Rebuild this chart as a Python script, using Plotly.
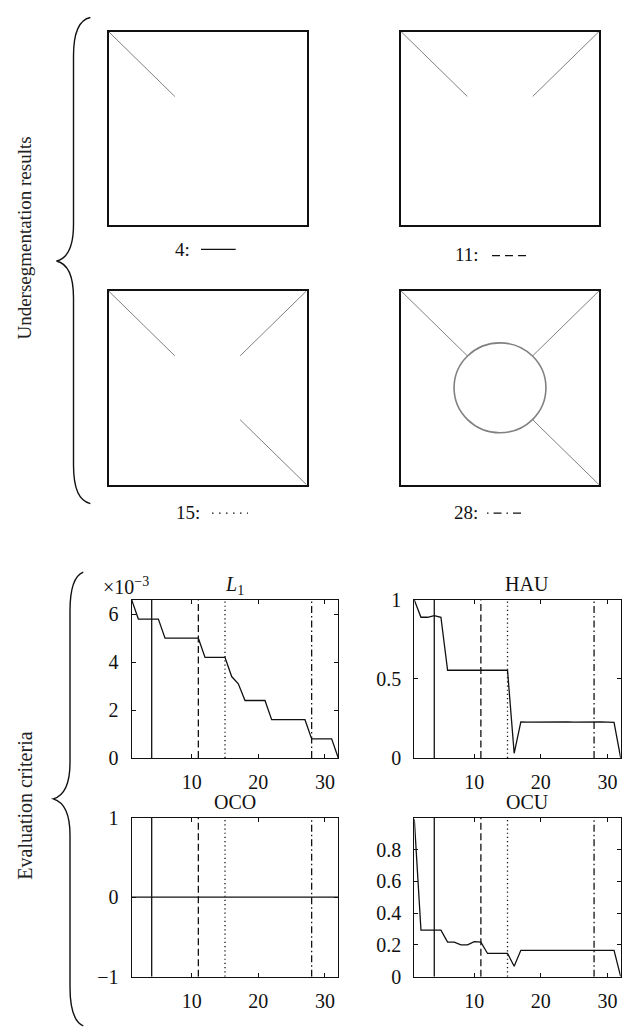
import plotly.graph_objects as go

W, H = 630, 1032

# ------------------------------------------------------------------ data
iterations = [1, 2, 3, 4, 5, 6, 7, 8, 9, 10, 11, 12, 13, 14, 15, 16,
              17, 18, 19, 20, 21, 22, 23, 24, 25, 26, 27, 28, 29, 30, 31, 32]
l1_e3 = [6.6, 5.8, 5.8, 5.8, 5.8, 5.0, 5.0, 5.0, 5.0, 5.0, 5.0, 4.2, 4.2, 4.2, 4.2, 3.4,
         3.1, 2.4, 2.4, 2.4, 2.4, 1.6, 1.6, 1.6, 1.6, 1.6, 1.6, 0.8, 0.8, 0.8, 0.8, 0.0]
hau = [1.0, 0.89, 0.89, 0.90, 0.89, 0.555, 0.555, 0.555, 0.556, 0.557, 0.557, 0.556, 0.556, 0.556, 0.555, 0.03,
       0.228, 0.227, 0.228, 0.228, 0.229, 0.228, 0.228, 0.228, 0.227, 0.228, 0.229, 0.228, 0.228, 0.227, 0.225, 0.0]
oco = [0, 0, 0, 0, 0, 0, 0, 0, 0, 0, 0, 0, 0, 0, 0, 0,
       0, 0, 0, 0, 0, 0, 0, 0, 0, 0, 0, 0, 0, 0, 0, 0]
ocu = [0.99, 0.293, 0.293, 0.293, 0.293, 0.217, 0.217, 0.20, 0.20, 0.22, 0.217, 0.146, 0.146, 0.146, 0.146, 0.066,
       0.166, 0.166, 0.166, 0.166, 0.166, 0.166, 0.166, 0.166, 0.166, 0.166, 0.166, 0.166, 0.166, 0.166, 0.166, 0.0]

selected_iters = [4, 11, 15, 28]
selected_labels = ["4:", "11:", "15:", "28:"]

plot_titles = ["<i>L</i><sub>1</sub>", "HAU", "OCO", "OCU"]
x_ticks = [10, 20, 30]
y_ticks = [[0, 2, 4, 6], [0, 0.5, 1], [-1, 0, 1], [0, 0.2, 0.4, 0.6, 0.8]]
y_ticktext = [["0", "2", "4", "6"], ["0", "0.5", "1"], ["\u22121", "0", "1"],
              ["0", "0.2", "0.4", "0.6", "0.8"]]
y_ranges = [[0, 6.6], [0, 1], [-1, 1], [0, 1]]
x_range = [1, 32]

# segmentation pictures: which corner diagonals are present, and a circle
image_diagonals = [["tl"], ["tl", "tr"], ["tl", "tr", "br"], ["tl", "tr", "br"]]
image_has_circle = [False, False, False, True]
diag_reach = 0.335
circle_radius = 0.232

# ------------------------------------------------------------------ styles / layout
FONT = "Liberation Serif"
BLACK = "#111111"
GREY = "#808080"
plot_dash = ["solid", "7px,3.5px", "1.2px,3px", "7px,3px,1.5px,3px"]
legend_dash = ["solid", "8px,5px", "1.5px,5.5px", "1.5px,5px,8px,5px"]

img_boxes = [(108.5, 21, 306.5, 219), (401, 21, 599, 219),
             (108.5, 286, 306.5, 484), (401, 286, 599, 484)]
plot_boxes = [(131.7, 601.7, 338.3, 763.3), (414.3, 601.7, 620.7, 763.3),
              (131.7, 824.3, 338.3, 986.7), (414.3, 824.3, 620.7, 986.7)]


def px(x):
    return x / W


def py(y):
    return 1 - y / H


fig = go.Figure()
layout = dict(
    width=W, height=H, margin=dict(l=0, r=0, t=0, b=0),
    paper_bgcolor="white", plot_bgcolor="white", showlegend=False,
    font=dict(family=FONT, size=20, color=BLACK),
)

corner_pts = {"tl": ((0, 0), (diag_reach, diag_reach)),
              "tr": ((1, 0), (1 - diag_reach, diag_reach)),
              "br": ((1, 1), (1 - diag_reach, 1 - diag_reach)),
              "bl": ((0, 1), (diag_reach, 1 - diag_reach))}

shapes = []
annotations = []

# --- segmentation images (axes 1..4)
for i, box in enumerate(img_boxes):
    n = i + 1
    xa = "x" if n == 1 else f"x{n}"
    ya = "y" if n == 1 else f"y{n}"
    for c in image_diagonals[i]:
        (x0, y0), (x1, y1) = corner_pts[c]
        fig.add_trace(go.Scatter(x=[x0, x1], y=[y0, y1], mode="lines",
                                 line=dict(color=GREY, width=1),
                                 xaxis=xa, yaxis=ya, hoverinfo="skip"))
    if image_has_circle[i]:
        shapes.append(dict(type="circle", xref=xa, yref=ya,
                           x0=0.5 - circle_radius, x1=0.5 + circle_radius,
                           y0=0.5 - circle_radius, y1=0.5 + circle_radius,
                           line=dict(color=GREY, width=1.6)))
    axcommon = dict(showline=True, mirror=True, linecolor=BLACK, linewidth=1.5,
                    showgrid=False, zeroline=False, showticklabels=False, ticks="")
    layout["xaxis" if n == 1 else f"xaxis{n}"] = dict(
        axcommon, domain=[px(box[0]), px(box[2])], range=[0, 1], anchor=ya)
    layout["yaxis" if n == 1 else f"yaxis{n}"] = dict(
        axcommon, domain=[py(box[3]), py(box[1])], range=[1, 0], anchor=xa)

# --- legend-like labels under the pictures
label_pos = [(172.7, 243.5, 201, 235.7, 243.5),
             (452.7, 249, 492, 527, 250),
             (173.6, 512.7, 212, 248, 513),
             (452, 512.7, 487, 524, 513)]
for i, (lx, ly, sx0, sx1, sy) in enumerate(label_pos):
    annotations.append(dict(x=px(lx), y=py(ly), xref="paper", yref="paper",
                            text=selected_labels[i], showarrow=False,
                            xanchor="left", yanchor="middle",
                            font=dict(size=19, family=FONT, color=BLACK)))
    shapes.append(dict(type="line", xref="paper", yref="paper",
                       x0=px(sx0), x1=px(sx1), y0=py(sy), y1=py(sy),
                       line=dict(color=BLACK, width=1.3, dash=legend_dash[i])))

# --- evaluation plots (axes 5..8)
series = [l1_e3, hau, oco, ocu]
for i, box in enumerate(plot_boxes):
    n = i + 5
    xa, ya = f"x{n}", f"y{n}"
    for s, d in zip(selected_iters, plot_dash):
        fig.add_trace(go.Scatter(x=[s, s], y=y_ranges[i], mode="lines",
                                 line=dict(color=BLACK, width=1.3, dash=d),
                                 xaxis=xa, yaxis=ya, hoverinfo="skip"))
    fig.add_trace(go.Scatter(x=iterations, y=series[i], mode="lines",
                             line=dict(color=BLACK, width=1.3),
                             xaxis=xa, yaxis=ya, hoverinfo="skip"))
    axcommon = dict(showline=True, mirror="ticks", linecolor=BLACK, linewidth=1.3,
                    showgrid=False, zeroline=False, ticks="inside", ticklen=4,
                    tickwidth=1, tickcolor=BLACK,
                    tickfont=dict(family=FONT, size=20, color=BLACK))
    layout[f"xaxis{n}"] = dict(axcommon, domain=[px(box[0]), px(box[2])],
                               range=x_range, tickvals=x_ticks, anchor=ya,
                               ticklabelstandoff=6)
    layout[f"yaxis{n}"] = dict(axcommon, domain=[py(box[3]), py(box[1])],
                               range=y_ranges[i], tickvals=y_ticks[i],
                               ticktext=y_ticktext[i], anchor=xa,
                               ticklabelstandoff=8)

title_pos = [(234, 587), (527, 585), (235, 808), (527, 808)]
for t, (tx, ty) in zip(plot_titles, title_pos):
    annotations.append(dict(x=px(tx), y=py(ty), xref="paper", yref="paper",
                            text=t, showarrow=False, xanchor="center", yanchor="middle",
                            font=dict(size=20, family=FONT, color=BLACK)))
annotations.append(dict(x=px(101), y=py(588), xref="paper", yref="paper",
                        text="\u00d710<sup>\u22123</sup>", showarrow=False,
                        xanchor="left", yanchor="middle",
                        font=dict(size=20, family=FONT, color=BLACK)))

# --- side labels and braces
annotations.append(dict(x=px(25), y=py(232.5), xref="paper", yref="paper",
                        text="Undersegmentation results", textangle=-90,
                        showarrow=False, xanchor="center", yanchor="middle",
                        font=dict(size=19, family=FONT, color="#222222")))
annotations.append(dict(x=px(25), y=py(812), xref="paper", yref="paper",
                        text="Evaluation criteria", textangle=-90,
                        showarrow=False, xanchor="center", yanchor="middle",
                        font=dict(size=20, family=FONT, color="#222222")))


def brace_path(pts):
    out = []
    for cmd, coords in pts:
        s = " ".join(f"{px(x):.5f},{py(y):.5f}" for x, y in coords)
        out.append(f"{cmd} {s}")
    return " ".join(out)


upper = [("M", [(90.4, 6.7)]),
         ("C", [(79, 9), (73.5, 22), (73.5, 46)]),
         ("L", [(73.5, 218)]),
         ("C", [(73.5, 242), (67, 253), (56.5, 255.5)]),
         ("C", [(67, 258), (73.5, 269), (73.5, 293)]),
         ("L", [(73.5, 464)]),
         ("C", [(73.5, 488), (79, 501), (90.4, 503.3)])]
lower = [("M", [(83.3, 573.3)]),
         ("C", [(74, 577), (70, 590), (70, 613)]),
         ("L", [(70, 768)]),
         ("C", [(70, 791), (63, 802), (53.3, 805)]),
         ("C", [(63, 808), (70, 819), (70, 842)]),
         ("L", [(70, 997)]),
         ("C", [(70, 1020), (74, 1033), (83.3, 1037)])]
for p in (upper, lower):
    shapes.append(dict(type="path", xref="paper", yref="paper", path=brace_path(p),
                       line=dict(color=BLACK, width=1.4)))

layout["shapes"] = shapes
layout["annotations"] = annotations
fig.update_layout(**layout)
fig.write_html("out.html")
